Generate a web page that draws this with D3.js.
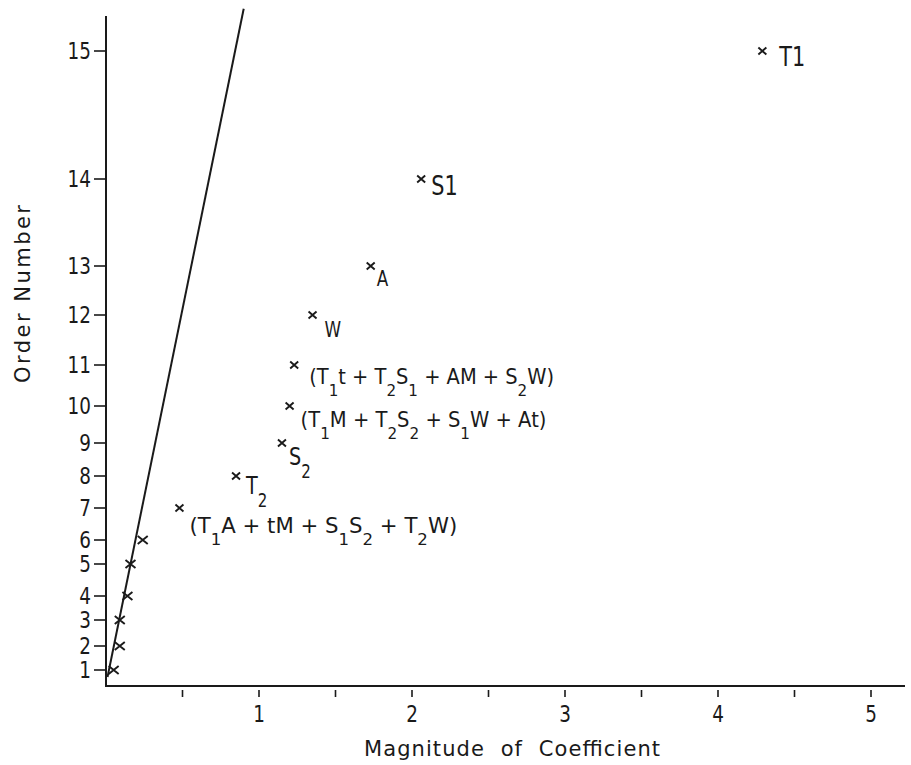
<!DOCTYPE html>
<html>
<head>
<meta charset="utf-8">
<script src="https://cdn.jsdelivr.net/npm/d3@7"></script>
<style>
  html, body { margin: 0; padding: 0; background: #fff; }
  svg { display: block; }
  text { font-family: "DejaVu Sans", "Liberation Sans", sans-serif; fill: #1a1a1a; }
</style>
</head>
<body>
<script>
// ---------------- data ----------------
const orderNumbers = [1, 2, 3, 4, 5, 6, 7, 8, 9, 10, 11, 12, 13, 14, 15];
const magnitudes   = [0.05, 0.09, 0.09, 0.14, 0.16, 0.24, 0.48, 0.85, 1.15, 1.20, 1.23, 1.35, 1.73, 2.06, 4.29];
const pointLabels  = ["", "", "", "", "", "",
  "(T_1A + tM + S_1S_2 + T_2W)", "T_2", "S_2",
  "(T_1M + T_2S_2 + S_1W + At)", "(T_1t + T_2S_1 + AM + S_2W)",
  "W", "A", "S1", "T1"];
const xTickValues  = [0.5, 1, 1.5, 2, 2.5, 3, 3.5, 4, 4.5, 5];
const xTickLabels  = [1, 2, 3, 4, 5];
const yTickLabels  = orderNumbers;
const fitLineX     = [0.01, 0.90];
const fitLineY     = [0.71, 15.33];
const xTitle = "Magnitude of Coefficient";
const yTitle = "Order Number";

// ---------------- layout ----------------
const W = 911, H = 765;
const xRange = [106, 871];
// pixel rows of the order-number axis (the axis is not evenly spaced in the original)
const yRows = [670, 646, 620, 596, 564, 540, 508, 476, 443, 406, 365, 315, 266, 179, 51];
// label placement per point: dx, baseline dy, font size, optional text length
const labelLayout = [null, null, null, null, null, null,
  {dx: 10, dy: 25, fs: 21, len: 268},
  {dx: 10, dy: 18, fs: 24},
  {dx: 7,  dy: 22, fs: 24},
  {dx: 11, dy: 21, fs: 21, len: 246},
  {dx: 15, dy: 19, fs: 21, len: 245},
  {dx: 12, dy: 22, fs: 21},
  {dx: 6,  dy: 20, fs: 21},
  {dx: 10, dy: 16, fs: 26},
  {dx: 17, dy: 15, fs: 26}];

const x = d3.scaleLinear().domain([0, 5]).range(xRange);
const y = d3.scaleLinear().domain(orderNumbers).range(yRows);

const svg = d3.select("body").append("svg").attr("width", W).attr("height", H);
const ink = "#1a1a1a";

// place a text at (px,py) and squeeze it horizontally by factor k (or to a target width)
function placeSqueezed(t, px, py, k, targetW) {
  const w = t.node().getBBox().width;
  const s = targetW ? targetW / w : k;
  t.attr("transform", `translate(${px},${py}) scale(${s},1)`);
}

// axes lines
svg.append("line").attr("x1", x(0)).attr("x2", x(0)).attr("y1", 16).attr("y2", 686)
  .attr("stroke", ink).attr("stroke-width", 2);
svg.append("line").attr("x1", x(0) - 1).attr("x2", 905).attr("y1", 686).attr("y2", 686)
  .attr("stroke", ink).attr("stroke-width", 2);

// y ticks
const yt = svg.append("g");
yt.selectAll("line").data(yTickLabels).join("line")
  .attr("x1", x(0) - 12).attr("x2", x(0)).attr("y1", d => y(d)).attr("y2", d => y(d))
  .attr("stroke", ink).attr("stroke-width", 1.6);
yt.selectAll("text").data(yTickLabels).join("text")
  .attr("dy", "0.36em").attr("text-anchor", "end").attr("font-size", 23).text(d => d)
  .each(function (d) { placeSqueezed(d3.select(this), x(0) - 15, y(d), 0.8); });

// x ticks
const xt = svg.append("g");
xt.selectAll("line").data(xTickValues).join("line")
  .attr("x1", d => x(d)).attr("x2", d => x(d)).attr("y1", 690).attr("y2", 697)
  .attr("stroke", ink).attr("stroke-width", 1.6);
xt.selectAll("text").data(xTickLabels).join("text")
  .attr("text-anchor", "middle").attr("font-size", 23).text(d => d)
  .each(function (d) { placeSqueezed(d3.select(this), x(d), 722, 0.8); });

// titles
svg.append("text").attr("x", 512).attr("y", 756).attr("text-anchor", "middle")
  .attr("font-size", 21).attr("textLength", 296).attr("lengthAdjust", "spacing")
  .text(xTitle).style("word-spacing", "8px");
svg.append("text").attr("transform", "translate(30,294) rotate(-90)")
  .attr("text-anchor", "middle").attr("font-size", 21)
  .attr("textLength", 178).attr("lengthAdjust", "spacing").text(yTitle);

// fitted straight line
svg.append("line")
  .attr("x1", x(fitLineX[0])).attr("y1", y(fitLineY[0]))
  .attr("x2", x(fitLineX[1])).attr("y2", y(fitLineY[1]))
  .attr("stroke", ink).attr("stroke-width", 2);

// points
const pts = orderNumbers.map((o, i) => ({o, m: magnitudes[i], label: pointLabels[i], lay: labelLayout[i]}));
svg.append("g").selectAll("path").data(pts).join("path")
  .attr("transform", d => `translate(${x(d.m)},${y(d.o)})`)
  .attr("d", d => d.o <= 6 ? "M-5,-4L5,4M-5,4L5,-4" : "M-4,-3.5L4,3.5M-4,3.5L4,-3.5")
  .attr("stroke", ink).attr("stroke-width", 1.9).attr("fill", "none");

// labels with subscripts
const lab = svg.append("g");
pts.filter(d => d.label).forEach(d => {
  const L = d.lay;
  const t = lab.append("text").attr("font-size", L.fs);
  const parts = d.label.split(/(_.)/).filter(s => s.length);
  const subShift = Math.round(L.fs * 0.55);
  let lowered = false;
  parts.forEach(p => {
    if (p[0] === "_") {
      t.append("tspan").attr("font-size", L.fs * 0.78).attr("dy", subShift).text(p[1]);
      lowered = true;
    } else {
      const s = t.append("tspan").text(p);
      if (lowered) { s.attr("dy", -subShift); lowered = false; }
    }
  });
  placeSqueezed(t, x(d.m) + L.dx, y(d.o) + L.dy, 0.8, L.len);
});
</script>
</body>
</html>
